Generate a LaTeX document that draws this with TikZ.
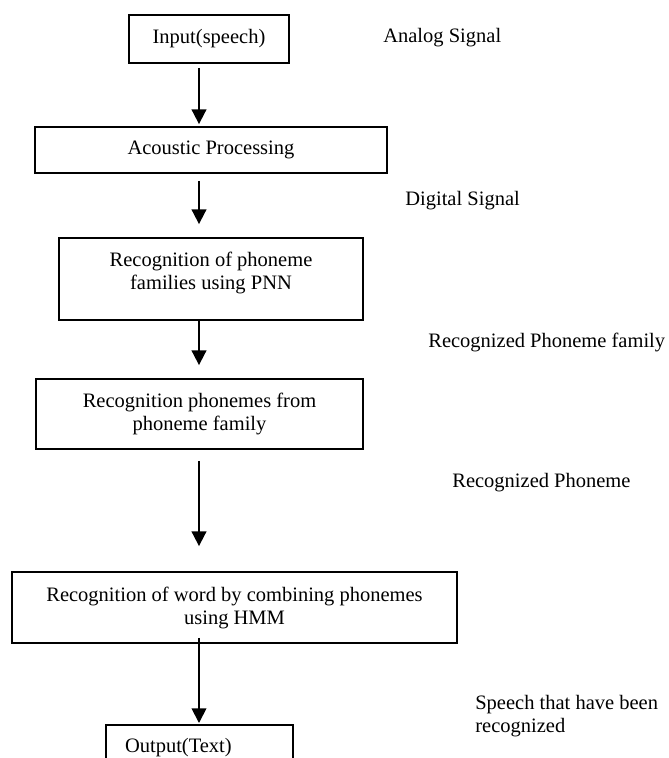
\documentclass[tikz,border=0pt]{standalone}
\usepackage{fontspec}
\setmainfont{Liberation Serif}
\usetikzlibrary{arrows.meta}
\begin{document}
\begin{tikzpicture}
    [x=0.6pt,y=-0.6pt,
    % Styles
    stage/.style={draw,line width=1.1pt,inner sep=2pt,align=center,
      font=\fontsize{12.3}{13.8}\selectfont},
    note/.style={anchor=west,inner sep=0pt,align=left,
      font=\fontsize{12.3}{13.8}\selectfont},
    flow/.style={line width=1.1pt,-{Triangle[length=8.8pt,width=8.8pt]}}]
    \clip (0,0) rectangle (669,758);
    \coordinate (axis) at (199,0);
    % Stages
    \node[stage,minimum width=96pt,minimum height=28.8pt] (input) at (209,39) {Input(speech)};
    \node[stage,minimum width=211.2pt,minimum height=27.6pt] (acoustic) at (211,150) {Acoustic Processing};
    \node[stage,minimum width=182.4pt,minimum height=49.2pt,text depth=10pt] (pnn) at (211,279)
      {Recognition of phoneme\\families using PNN};
    \node[stage,minimum width=196.2pt,minimum height=42pt] (family) at (199.5,414)
      {Recognition phonemes from\\phoneme family};
    \node[stage,minimum width=267pt,minimum height=42.6pt] (hmm) at (234.5,607.5)
      {Recognition of word by combining phonemes\\using HMM};
    \node[stage,anchor=north,minimum height=27.6pt,text width=89.4pt,inner xsep=11.4pt,align=left]
      (output) at (199.5,724) {Output(Text)};
    % Signals
    \node[note] (analog) at (383,38) {Analog Signal};
    \node[note] (digital) at (405,201) {Digital Signal};
    \node[note] (recfamily) at (428,342) {Recognized Phoneme family};
    \node[note] (recphoneme) at (452,483) {Recognized Phoneme};
    \node[note] (recspeech) at (475,716.5) {Speech that have been\\recognized};
    % Arrows
    \foreach \from/\to/\gapa/\gapb in {input/acoustic/2.4/1.2, acoustic/pnn/4.2/7.8,
      pnn/family/0/7.8, family/hmm/6.6/15, hmm/output/-3.6/0.6}
      \draw[flow,shorten <=\gapa pt,shorten >=\gapb pt] (\from.south -| axis) -- (\to.north -| axis);
\end{tikzpicture}
\end{document}
